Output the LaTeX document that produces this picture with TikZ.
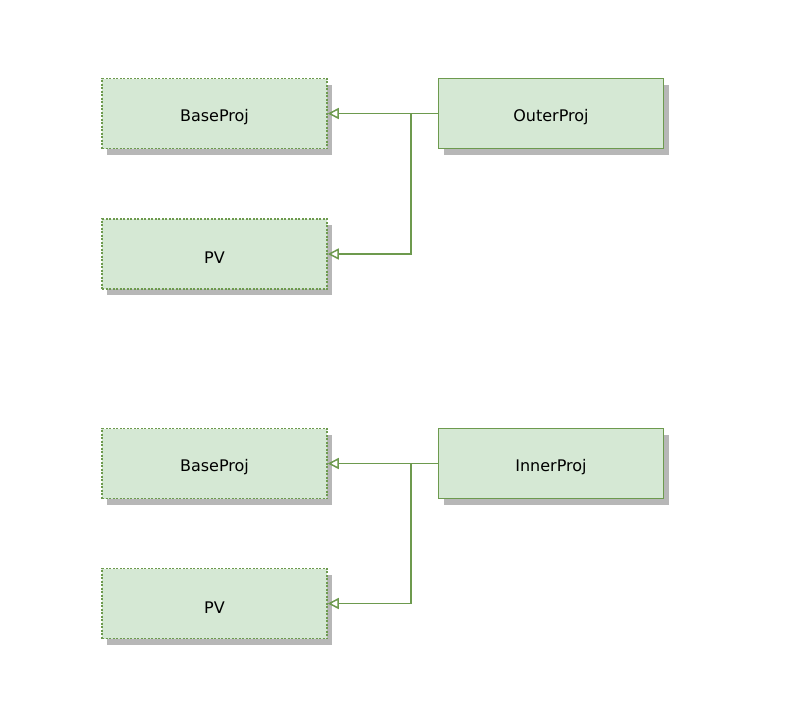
\documentclass[tikz,border=0pt]{standalone}
\usepackage{fontspec}
\setmainfont{DejaVu Sans}
\usetikzlibrary{shadows,arrows.meta}
\definecolor{gfill}{HTML}{D5E8D4}
\definecolor{gline}{HTML}{6D9A4E}
\begin{document}
\begin{tikzpicture}[x=1pt,y=-1pt,
 box/.style={draw=gline,fill=gfill,line width=1.5pt,minimum width=225pt,minimum height=70pt,inner sep=0pt,
   font=\fontsize{16}{18}\selectfont,text depth=0pt,
   drop shadow={shadow xshift=5pt,shadow yshift=-6pt,opacity=0.4,fill=black!70}},
 ibox/.style={box,dash pattern=on 2pt off 1.5pt},
 lbl/.style={font=\fontsize{16}{18}\selectfont},
 conn/.style={draw=gline,line width=1.5pt,-{Triangle[open,length=11pt,width=11pt]}}]
\useasboundingbox (0,0) rectangle (810,707);
\node[ibox] (b1) at (214.5,113.5) {};
\node[lbl] at ([yshift=-4pt]b1.center) {BaseProj};
\node[box] (o) at (551,113.5) {};
\node[lbl] at ([yshift=-4pt]o.center) {OuterProj};
\node[ibox] (p1) at (214.5,254) {};
\node[lbl] at ([yshift=-4pt]p1.center) {PV};
\coordinate (j1) at (411,113.5);
\draw[conn] (o.west) -- (b1.east);
\draw[conn] (j1) -- (411,254) -- (p1.east);
\node[ibox] (b2) at (214.5,463.5) {};
\node[lbl] at ([yshift=-4pt]b2.center) {BaseProj};
\node[box] (i) at (551,463.5) {};
\node[lbl] at ([yshift=-4pt]i.center) {InnerProj};
\node[ibox] (p2) at (214.5,603.5) {};
\node[lbl] at ([yshift=-4pt]p2.center) {PV};
\coordinate (j2) at (411,463.5);
\draw[conn] (i.west) -- (b2.east);
\draw[conn] (j2) -- (411,603.5) -- (p2.east);
\end{tikzpicture}
\end{document}
